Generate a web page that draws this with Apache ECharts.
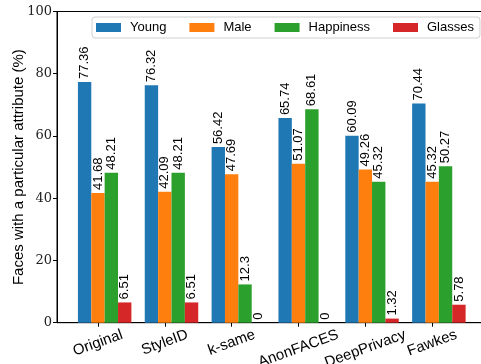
<!DOCTYPE html>
<html>
<head>
<meta charset="utf-8">
<script src="https://cdn.jsdelivr.net/npm/echarts@6/dist/echarts.min.js"></script>
<style>
  html, body { margin: 0; padding: 0; background: #fff; }
  #chart { width: 481px; height: 364px; }
</style>
</head>
<body>
<div id="chart"></div>
<script>
// Methods compared and the share of faces showing each attribute (%)
const methods = ['Original', 'StyleID', 'k-same', 'AnonFACES', 'DeepPrivacy', 'Fawkes'];
const young = [77.36, 76.32, 56.42, 65.74, 60.09, 70.44];
const male = [41.68, 42.09, 47.69, 51.07, 49.26, 45.32];
const happiness = [48.21, 48.21, 12.3, 68.61, 45.32, 50.27];
const glasses = [6.51, 6.51, 0, 0, 1.32, 5.78];
const yTicks = [0, 20, 40, 60, 80, 100];

const seriesNames = ['Young', 'Male', 'Happiness', 'Glasses'];
const seriesData = [young, male, happiness, glasses];
const colors = ['#1f77b4', '#ff7f0e', '#2ca02c', '#d62728'];

// Each group of four bars sits half a bar to the right of its tick
const groupShift = 0.1;
const methodPos = methods.map((_, i) => i);

// Rotated tick labels hang below the axis by their rotated bounding box,
// so longer names sit a little lower. Work out a per-label push-down.
const labelFont = 'Liberation Sans, Arial, sans-serif';
const labelSize = 15;
const rot = 20 * Math.PI / 180;
const labelMargin = 10;
const labelTopGap = 4.5;
const measureCtx = document.createElement('canvas').getContext('2d');
measureCtx.font = labelSize + 'px ' + labelFont;
const labelRich = {};
methods.forEach((m, i) => {
  const w = measureCtx.measureText(m).width;
  const halfBox = (w * Math.sin(rot) + labelSize * Math.cos(rot)) / 2;
  const dy = Math.max(0, labelTopGap - labelMargin + halfBox);
  const s = dy * Math.cos(rot);
  const t = dy * Math.sin(rot);
  labelRich['l' + i] = {
    fontFamily: labelFont,
    fontSize: labelSize,
    color: '#000',
    padding: [2 * s, 2 * t, 0, 0]
  };
});

const chart = echarts.init(document.getElementById('chart'), null, { renderer: 'canvas' });

const series = seriesNames.map((name, s) => ({
  name: name,
  type: 'bar',
  barWidth: 13.37,
  barGap: '0%',
  itemStyle: { color: colors[s] },
  label: {
    show: true,
    position: 'top',
    rotate: 90,
    align: 'left',
    verticalAlign: 'middle',
    distance: 3,
    color: '#000',
    fontFamily: 'Liberation Sans, Arial, sans-serif',
    fontSize: 13,
    formatter: p => String(p.value[1])
  },
  data: seriesData[s].map((v, i) => [methodPos[i] + groupShift, v])
}));

chart.setOption({
  animation: false,
  backgroundColor: '#fff',
  grid: {
    left: 57, top: 11.5, width: 428, height: 311.2,
    containLabel: false,
    outerBoundsMode: 'none',
    show: true,
    borderColor: '#000',
    borderWidth: 1,
    backgroundColor: 'transparent'
  },
  legend: {
    data: seriesNames,
    left: 92,
    top: 17,
    itemWidth: 25,
    itemHeight: 9,
    itemGap: 23,
    padding: [4, 6, 4, 4],
    borderColor: '#d0d0d0',
    borderWidth: 1,
    borderRadius: 3,
    backgroundColor: '#fff',
    icon: 'rect',
    textStyle: {
      fontFamily: 'Liberation Sans, Arial, sans-serif',
      fontSize: 13,
      color: '#000',
      padding: [0, 0, 0, 4]
    }
  },
  xAxis: {
    type: 'value',
    min: -0.613,
    max: 5.79,
    splitLine: { show: false },
    axisLine: { show: true, onZero: false, lineStyle: { color: '#000', width: 1 } },
    axisTick: {
      show: true,
      length: 4,
      lineStyle: { color: '#000' },
      customValues: methodPos
    },
    axisLabel: {
      show: true,
      customValues: methodPos,
      rotate: 20,
      align: 'center',
      verticalAlign: 'middle',
      margin: labelMargin,
      fontFamily: labelFont,
      fontSize: labelSize,
      color: '#000',
      formatter: v => {
        const i = Math.round(v);
        return '{l' + i + '|' + methods[i] + '}';
      },
      rich: labelRich
    }
  },
  yAxis: {
    type: 'value',
    min: 0,
    max: 100,
    interval: 20,
    name: 'Faces with a particular attribute (%)',
    nameLocation: 'middle',
    nameGap: 31,
    nameMoveOverlap: false,
    nameTextStyle: {
      fontFamily: 'Liberation Sans, Arial, sans-serif',
      fontSize: 15,
      color: '#000'
    },
    splitLine: { show: false },
    axisLine: { show: true, onZero: false, lineStyle: { color: '#000', width: 1 } },
    axisTick: { show: true, length: 4, lineStyle: { color: '#000' } },
    axisLabel: {
      margin: 5,
      fontFamily: 'DejaVu Serif, Liberation Serif, serif',
      fontSize: 13,
      color: '#222',
      formatter: v => (yTicks.indexOf(v) >= 0 ? String(v) : '')
    }
  },
  series: series
});
</script>
</body>
</html>
